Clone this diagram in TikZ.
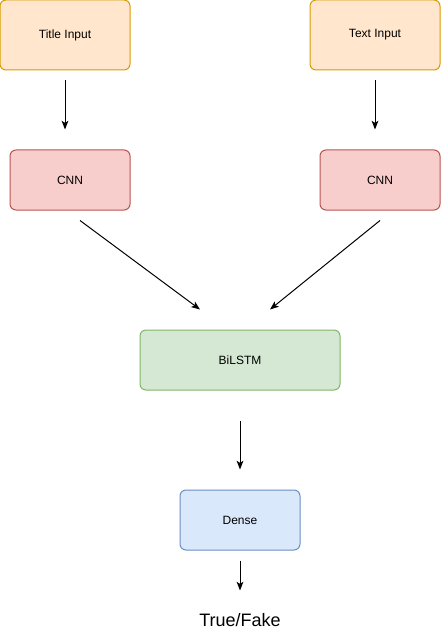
\documentclass[tikz,border=0pt]{standalone}
\usepackage{fontspec}
\setmainfont{Liberation Sans}
\usetikzlibrary{arrows.meta,positioning,calc}

\definecolor{inputfill}{HTML}{FFE6CC}
\definecolor{inputline}{HTML}{D79B00}
\definecolor{cnnfill}{HTML}{F8CECC}
\definecolor{cnnline}{HTML}{B85450}
\definecolor{lstmfill}{HTML}{D5E8D4}
\definecolor{lstmline}{HTML}{82B366}
\definecolor{densefill}{HTML}{DAE8FC}
\definecolor{denseline}{HTML}{6C8EBF}

\begin{document}
\begin{tikzpicture}[
    x=0.75pt, y=-0.75pt,
    box/.style={rectangle,draw,rounded corners=4.5pt,line width=0.75pt,font=\fontsize{9}{11}\selectfont,inner sep=0pt},
    inbox/.style={box,fill=inputfill,draw=inputline,minimum width=97.5pt,minimum height=52.5pt},
    cnnbox/.style={box,fill=cnnfill,draw=cnnline,minimum width=90pt,minimum height=45pt},
    arrow/.style={-{Stealth[length=6.5pt,width=5pt,inset=1.5pt]},line width=0.75pt}
]
\useasboundingbox (0,0) rectangle (441,631);

% Input layers
\node[inbox] (title) at (65,35) {Title Input};
\node[inbox] (text) at (375,35) {Text Input};

% Convolution layers
\node[cnnbox] (cnn_title) at (70,180) {CNN};
\node[cnnbox] (cnn_text) at (380,180) {CNN};

% Recurrent layer
\node[box,fill=lstmfill,draw=lstmline,minimum width=150pt,minimum height=45pt] (bilstm) at (240,360) {BiLSTM};

% Dense layer
\node[box,fill=densefill,draw=denseline,minimum width=90pt,minimum height=45pt] (dense) at (240,520) {Dense};

% Output
\node[font=\fontsize{13.5}{16}\selectfont,inner sep=0pt] (result) at (240,620) {True/Fake};

% Connections
\draw[arrow,shorten <=7.5pt,shorten >=15pt] (title.south) -- (title.south |- cnn_title.north);
\draw[arrow,shorten <=7.5pt,shorten >=15pt] (text.south) -- (text.south |- cnn_text.north);
\draw[arrow] ($(cnn_title.south)+(10,10)$) -- ($(bilstm.north)+(-40,-20)$);
\draw[arrow] ($(cnn_text.south)+(0,10)$) -- ($(bilstm.north)+(30,-20)$);
\draw[arrow,shorten <=22.5pt,shorten >=15pt] (bilstm.south) -- (dense.north);
\draw[arrow,shorten <=7.5pt] (dense.south) -- ($(dense.south)+(0,40)$);

\end{tikzpicture}
\end{document}
